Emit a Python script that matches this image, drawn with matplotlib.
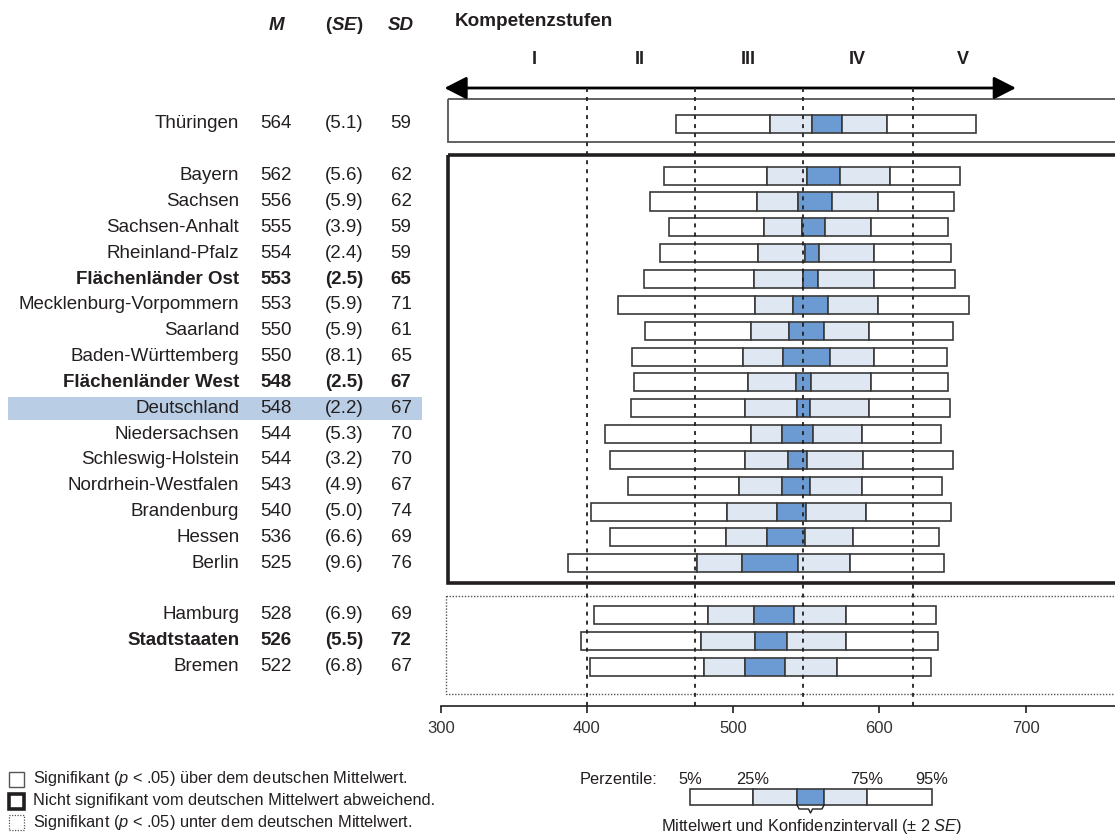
import matplotlib
matplotlib.use("Agg")
import matplotlib.pyplot as plt
from matplotlib.patches import Rectangle
from matplotlib import transforms

plt.rcParams['font.family'] = ['Liberation Sans', 'DejaVu Sans']
plt.rcParams['mathtext.fontset'] = 'custom'
plt.rcParams['mathtext.rm'] = 'Liberation Sans'
plt.rcParams['mathtext.it'] = 'Liberation Sans:italic'
plt.rcParams['mathtext.bf'] = 'Liberation Sans:bold'
plt.rcParams['mathtext.bfit'] = 'Liberation Sans:italic:bold'

# Daten (Mittelwert, Standardfehler, Standardabweichung, Perzentile)
gruppen = [
    ["Thüringen"],
    ["Bayern", "Sachsen", "Sachsen-Anhalt", "Rheinland-Pfalz", "Flächenländer Ost",
     "Mecklenburg-Vorpommern", "Saarland", "Baden-Württemberg", "Flächenländer West",
     "Deutschland", "Niedersachsen", "Schleswig-Holstein", "Nordrhein-Westfalen",
     "Brandenburg", "Hessen", "Berlin"],
    ["Hamburg", "Stadtstaaten", "Bremen"],
]
mittel = [564, 562, 556, 555, 554, 553, 553, 550, 550, 548, 548, 544, 544, 543, 540, 536, 525, 528, 526, 522]
se = [5.1, 5.6, 5.9, 3.9, 2.4, 2.5, 5.9, 5.9, 8.1, 2.5, 2.2, 5.3, 3.2, 4.9, 5.0, 6.6, 9.6, 6.9, 5.5, 6.8]
sd = [59, 62, 62, 59, 59, 65, 71, 61, 65, 67, 67, 70, 70, 67, 74, 69, 76, 69, 72, 67]
p5 = [461, 453, 443, 456, 450, 439, 421, 440, 431, 432, 430, 412, 416, 428, 403, 416, 387, 405, 396, 402]
p25 = [525, 523, 516, 521, 517, 514, 515, 512, 507, 510, 508, 512, 508, 504, 496, 495, 475, 483, 478, 480]
p75 = [605, 607, 599, 594, 596, 596, 599, 593, 596, 594, 593, 588, 589, 588, 591, 582, 580, 577, 577, 571]
p95 = [666, 655, 651, 647, 649, 652, 661, 650, 646, 647, 648, 642, 650, 643, 649, 641, 644, 639, 640, 635]
fett = ["Flächenländer Ost", "Flächenländer West", "Stadtstaaten"]

stufen = ["I", "II", "III", "IV", "V"]
stufen_mitte = [364, 436, 510, 585, 657]
stufen_grenzen = [400, 474, 548, 623]
x_ticks = [300, 400, 500, 600, 700]
legende_perzentile = ["5%", "25%", "75%", "95%"]

TEXT = "#231f20"
HELL = "#dfe7f3"
DUNKEL = "#6b9bd2"
BAND = "#b9cde5"
RAND = "#3a3a3a"

W, H = 1115, 835
fig = plt.figure(figsize=(W / 100, H / 100), dpi=100)

# Zeilenpositionen: eine Leerzeile zwischen den Gruppen
laender, zeilen, gruppen_zeilen = [], [], []
z = 0
for g in gruppen:
    gz = []
    for name in g:
        laender.append(name)
        zeilen.append(z)
        gz.append(z)
        z += 1
    gruppen_zeilen.append(gz)
    z += 1

px_row = 25.84
row0 = 124
y_bottom = (706 - row0) / px_row
y_top = -row0 / px_row
ax = fig.add_axes([440.7 / W, (H - 706) / H, 1 - 440.7 / W, 706 / H])
ax.set_xlim(300, 300 + (W - 440.7) / 1.4625)
ax.set_ylim(y_bottom, y_top)

for s in ["top", "right", "left"]:
    ax.spines[s].set_visible(False)
ax.spines["bottom"].set_bounds(300, 800)
ax.spines["bottom"].set_linewidth(1.2)
ax.spines["bottom"].set_color(TEXT)
ax.set_yticks([])
ax.set_xticks(x_ticks)
ax.tick_params(axis="x", direction="out", length=5, width=1.2, colors=TEXT,
               labelsize=12, pad=6, labelcolor="#333333")

# Balken
h = 0.7
for i, y in enumerate(zeilen):
    lo, hi = mittel[i] - 2 * se[i], mittel[i] + 2 * se[i]
    segs = [(p5[i], p25[i], "white"), (p25[i], lo, HELL), (lo, hi, DUNKEL),
            (hi, p75[i], HELL), (p75[i], p95[i], "white")]
    for a, b, c in segs:
        ax.barh(y, b - a, left=a, height=h, color=c, edgecolor=RAND, linewidth=1.2, zorder=3)

# Gruppenrahmen
g0, g1, g2 = gruppen_zeilen
ax.add_patch(Rectangle((304.7, g0[0] - 0.96), 600, 0.96 + 0.685 + (g0[-1] - g0[0]),
                       fill=False, edgecolor="#555555", linewidth=1.3, zorder=2))
ax.add_patch(Rectangle((304.8, g1[0] - 0.79), 600, (g1[-1] - g1[0]) + 0.79 + 0.78,
                       fill=False, edgecolor=TEXT, linewidth=2.6, zorder=2))
ax.add_patch(Rectangle((303.4, g2[0] - 0.75), 600, (g2[-1] - g2[0]) + 0.75 + 1.07,
                       fill=False, edgecolor="#555555", linewidth=1.0, linestyle=(0, (1, 1.2)), zorder=2))

# Kompetenzstufen
arrow_y = (88 - row0) / px_row
ax.vlines(stufen_grenzen, arrow_y, y_bottom, colors=TEXT, linewidth=1.3,
          linestyles=[(0, (2.2, 2.8))], zorder=4, clip_on=False)
ax.annotate("", xy=(693.3, arrow_y), xytext=(302.6, arrow_y), annotation_clip=False,
            arrowprops=dict(arrowstyle="<|-|>,head_length=0.45,head_width=0.23",
                            mutation_scale=30, lw=2, color="black", shrinkA=0, shrinkB=0))
for s, xm in zip(stufen, stufen_mitte):
    ax.text(xm, (60 - row0) / px_row, s, ha="center", va="center", fontsize=13,
            fontweight="bold", color=TEXT, clip_on=False)
ax.text(309.8, (22 - row0) / px_row, "Kompetenzstufen", ha="left", va="center",
        fontsize=13.6, fontweight="bold", color=TEXT, clip_on=False)

# Tabelle links
tr = transforms.blended_transform_factory(fig.transFigure, ax.transData)
for i, y in enumerate(zeilen):
    name = laender[i]
    fw = "bold" if name in fett else "normal"
    kw = dict(transform=tr, va="center", fontsize=13.5, fontweight=fw, color=TEXT, clip_on=False)
    ax.text(239.3 / W, y, name, ha="right", **kw)
    ax.text(276 / W, y, f"{mittel[i]}", ha="center", **kw)
    ax.text(344 / W, y, f"({se[i]:.1f})", ha="center", **kw)
    ax.text(401 / W, y, f"{sd[i]}", ha="center", **kw)
    if name == "Deutschland":
        ax.add_patch(Rectangle((8.3 / W, y - 0.44), 413.4 / W, 0.88, transform=tr,
                               facecolor=BAND, edgecolor="none", clip_on=False, zorder=0))

ykopf = (25 - row0) / px_row
ax.text(276 / W, ykopf, "M", transform=tr, ha="center", va="center", fontsize=13.5,
        fontweight="bold", style="italic", color=TEXT)
ax.text(344 / W, ykopf, r"$\mathbf{(}\mathbfit{SE}\mathbf{)}$", transform=tr, ha="center",
        va="center", fontsize=13.5, color=TEXT)
ax.text(401 / W, ykopf, "SD", transform=tr, ha="center", va="center", fontsize=13.5,
        fontweight="bold", style="italic", color=TEXT)

# Legende links
leg_texte = [r"Signifikant ($p$ < .05) über dem deutschen Mittelwert.",
             "Nicht signifikant vom deutschen Mittelwert abweichend.",
             r"Signifikant ($p$ < .05) unter dem deutschen Mittelwert."]
leg_y = [779, 801, 822]
leg_stil = [dict(edgecolor="#555555", linewidth=1.0, linestyle="-"),
            dict(edgecolor=TEXT, linewidth=2.6, linestyle="-"),
            dict(edgecolor="#555555", linewidth=0.9, linestyle=(0, (1, 1.2)))]
for t, yy, st in zip(leg_texte, leg_y, leg_stil):
    fig.add_artist(Rectangle((9 / W, 1 - (yy + 7.5) / H), 15 / W, 15 / H, fill=False,
                             transform=fig.transFigure, **st))
    fig.text(33 / W, 1 - yy / H, t, ha="left", va="center", fontsize=11.8, color=TEXT)

# Legende rechts (Beispielbalken)
bsp = [0, 63, 107, 134, 177, 242]
bsp_farben = ["white", HELL, DUNKEL, HELL, "white"]
lax = fig.add_axes([690 / W, 1 - 805 / H, 242 / W, 16 / H])
lax.set_xlim(0, 242)
lax.set_ylim(0, 1)
lax.axis("off")
for a, b, c in zip(bsp[:-1], bsp[1:], bsp_farben):
    lax.barh(0.5, b - a, left=a, height=1, color=c, edgecolor=RAND, linewidth=1.2, clip_on=False)
bx = [bsp[2], bsp[2] + 2, (bsp[2] + bsp[3]) / 2 - 2, (bsp[2] + bsp[3]) / 2,
      (bsp[2] + bsp[3]) / 2 + 2, bsp[3] - 2, bsp[3]]
by = [0, -0.25, -0.25, -0.5, -0.25, -0.25, 0]
lax.plot(bx, by, color=TEXT, linewidth=1.0, clip_on=False)
for lab, xv in zip(legende_perzentile, [bsp[0], bsp[1], bsp[4], bsp[5]]):
    lax.text(xv, 1.6, lab, ha="center", va="center", fontsize=11.8, color=TEXT)
fig.text(618.5 / W, 1 - 779 / H, "Perzentile:", ha="center", va="center", fontsize=11.8, color=TEXT)
fig.text(812 / W, 1 - 827 / H, r"Mittelwert und Konfidenzintervall (± 2 $SE$)", ha="center",
         va="center", fontsize=11.8, color=TEXT)

fig.savefig("out.png", dpi=100)
